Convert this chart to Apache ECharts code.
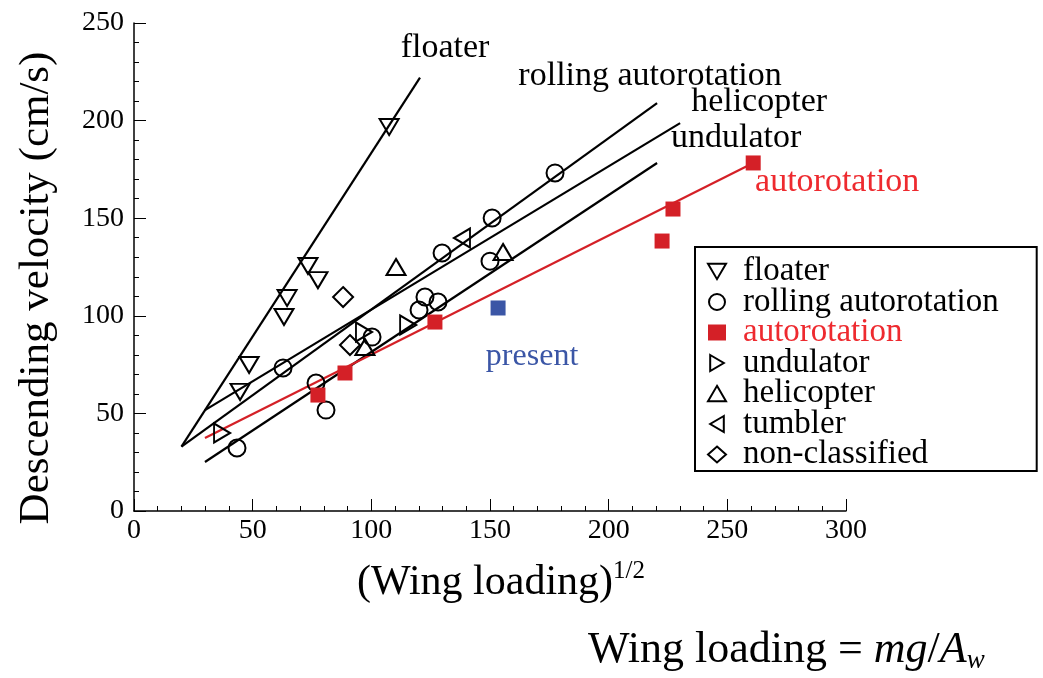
<!DOCTYPE html>
<html><head><meta charset="utf-8">
<script src="https://cdn.jsdelivr.net/npm/echarts@6/dist/echarts.min.js"></script>
<style>html,body{margin:0;padding:0;background:#fff}#c{width:1043px;height:678px}</style>
</head><body><div id="c"></div>
<script>
// ---- data (x = (wing loading)^1/2, y = descending velocity cm/s) ----
const floaterPts = [[107.5,196.7],[73.3,125.5],[77.5,118.3],[64.5,109.1],[63.2,99.4],[48.5,74.8],[44.7,61]];
const rollingPts = [[43.4,32.3],[62.8,73.3],[76.7,65.6],[80.9,51.7],[100.3,89.1],[120.1,103],[122.6,109.6],[128.1,107.1],[129.8,132.2],[150,128],[150.9,150.1],[177.4,173.2]];
const autorotPts = [[77.5,59.4],[88.9,70.7],[126.8,96.8],[222.5,138.3],[227.1,154.7],[260.9,178.3]];
const undulatorPts = [[37.1,40],[96.9,91.7],[115.5,95.3]];
const helicopterPts = [[110.4,125],[155.5,132.7],[97.3,84]];
const tumblerPts = [[138.2,139.9]];
const nonClassPts = [[88.1,109.6],[91,85]];
const presentPts = [[153.4,104]];

// fitted lines (end points)
const floaterFit = [[20,33],[120.5,222]];
const rollingFit = [[20,33],[220.4,209]];
const helicopterFit = [[29.9,51.7],[230.1,198.7]];
const undulatorFit = [[29.9,25.1],[220.4,178.3]];
const autorotFit = [[29.9,37.4],[260.9,178.3]];

const xMin = 0, xMax = 300, xStep = 50;
const yMin = 0, yMax = 250, yStep = 50;

const FONT = '"Liberation Serif", "Times New Roman", serif';
const RED = '#d42027', RED_TXT = '#ee2a2f', BLUE = '#3b56a6';

const sym = {
  down: 'path://M0,0L20,0L10,17Z',
  up: 'path://M10,0L20,17L0,17Z',
  right: 'path://M0,0L17,10L0,20Z',
  left: 'path://M17,0L0,10L17,20Z'
};
const hollow = {color: 'rgba(0,0,0,0)', borderColor: '#000', borderWidth: 2, opacity: 1};

function fitLine(name, pts, color, lbl, off, lblColor) {
  const data = pts.map((p, i) => {
    if (i === pts.length - 1) {
      return {value: p, label: {show: true, formatter: lbl, position: 'inside', offset: off,
        color: lblColor || '#000', fontFamily: FONT, fontSize: 34}};
    }
    return {value: p};
  });
  return {type: 'line', name: name, data: data, showSymbol: true, symbol: 'circle', symbolSize: 0,
    silent: true, z: 1, lineStyle: {color: color, width: 2.2}, itemStyle: {color: color}, animation: false};
}
function scat(name, pts, symbol, size, style) {
  return {type: 'scatter', name: name, data: pts, symbol: symbol, symbolSize: size,
    itemStyle: style, z: 3, animation: false};
}

const chart = echarts.init(document.getElementById('c'), null, {renderer: 'canvas'});
chart.setOption({
  backgroundColor: '#fff',
  animation: false,
  grid: {left: 134, right: 197, top: 23, bottom: 167},
  xAxis: {
    type: 'value', min: xMin, max: xMax, interval: xStep,
    name: '(Wing loading){s|1/2}', nameLocation: 'middle', nameGap: 48,
    nameTextStyle: {fontFamily: FONT, fontSize: 42, color: '#000', padding: [0, 0, 0, 22],
      rich: {s: {fontFamily: FONT, fontSize: 25, verticalAlign: 'top', padding: [0, 0, 22, 0], color: '#000'}}},
    axisLine: {lineStyle: {color: '#000', width: 1.5}},
    axisTick: {inside: true, length: 12, lineStyle: {color: '#000', width: 1}},
    minorTick: {show: true, splitNumber: 5, length: 5, lineStyle: {color: '#000', width: 1}},
    axisLabel: {fontFamily: FONT, fontSize: 28, color: '#000', margin: 6},
    splitLine: {show: false}
  },
  yAxis: {
    type: 'value', min: yMin, max: yMax, interval: yStep,
    name: 'Descending velocity (cm/s)', nameLocation: 'middle', nameGap: 76, nameRotate: 90,
    nameTextStyle: {fontFamily: FONT, fontSize: 43, color: '#000', padding: [0, 42, 0, 0]},
    axisLine: {show: true, lineStyle: {color: '#000', width: 1.5}},
    axisTick: {show: true, inside: true, length: 12, lineStyle: {color: '#000', width: 1}},
    minorTick: {show: true, splitNumber: 5, length: 5, lineStyle: {color: '#000', width: 1}},
    axisLabel: {fontFamily: FONT, fontSize: 28, color: '#000', margin: 10},
    splitLine: {show: false}
  },
  legend: {
    orient: 'vertical', left: 695, top: 247, selectedMode: false,
    backgroundColor: '#fff', borderColor: '#000', borderWidth: 2, borderRadius: 0,
    padding: [8, 38, 0, 12], itemGap: -2.5, itemWidth: 18, itemHeight: 16,
    textStyle: {fontFamily: FONT, fontSize: 33, color: '#000', lineHeight: 30, height: 30, padding: [0, 0, 0, 12]},
    data: [
      {name: 'floater'},
      {name: 'rolling autorotation'},
      {name: 'autorotation', textStyle: {color: RED_TXT}},
      {name: 'undulator'},
      {name: 'helicopter'},
      {name: 'tumbler'},
      {name: 'non-classified'}
    ]
  },
  series: [
    fitLine('fit-floater', floaterFit, '#000', 'floater', [25, -30]),
    fitLine('fit-rolling', rollingFit, '#000', 'rolling autorotation', [-7, -27]),
    fitLine('fit-helicopter', helicopterFit, '#000', 'helicopter', [79, -21]),
    fitLine('fit-undulator', undulatorFit, '#000', 'undulator', [79, -25]),
    fitLine('fit-autorotation', autorotFit, RED, 'autorotation', [84, 19], RED_TXT),
    scat('floater', floaterPts, sym.down, [19, 16], hollow),
    scat('rolling autorotation', rollingPts, 'circle', 17, hollow),
    scat('autorotation', autorotPts, 'rect', 15, {color: RED, opacity: 1}),
    scat('undulator', undulatorPts, sym.right, [16, 19], hollow),
    scat('helicopter', helicopterPts, sym.up, [19, 16], hollow),
    scat('tumbler', tumblerPts, sym.left, [16, 19], hollow),
    scat('non-classified', nonClassPts, 'diamond', [20, 20], hollow),
    {type: 'scatter', name: 'present', data: presentPts, symbol: 'rect', symbolSize: 15,
      itemStyle: {color: BLUE, opacity: 1}, z: 3,
      label: {show: true, formatter: 'present', position: 'bottom', distance: 25, offset: [34, 0],
        color: BLUE, fontFamily: FONT, fontSize: 32}}
  ],
  graphic: [{
    type: 'text', left: 588, top: 628,
    style: {
      text: 'Wing loading = {i|mg}/{i|A}{sub|w}',
      fontFamily: FONT, fontSize: 44, fill: '#000',
      rich: {
        i: {fontFamily: FONT, fontSize: 44, fontStyle: 'italic', fill: '#000'},
        sub: {fontFamily: FONT, fontSize: 27, fontStyle: 'italic', fill: '#000', verticalAlign: 'bottom', padding: [22, 0, 0, 0]}
      }
    }
  }]
});
</script>
</body></html>
